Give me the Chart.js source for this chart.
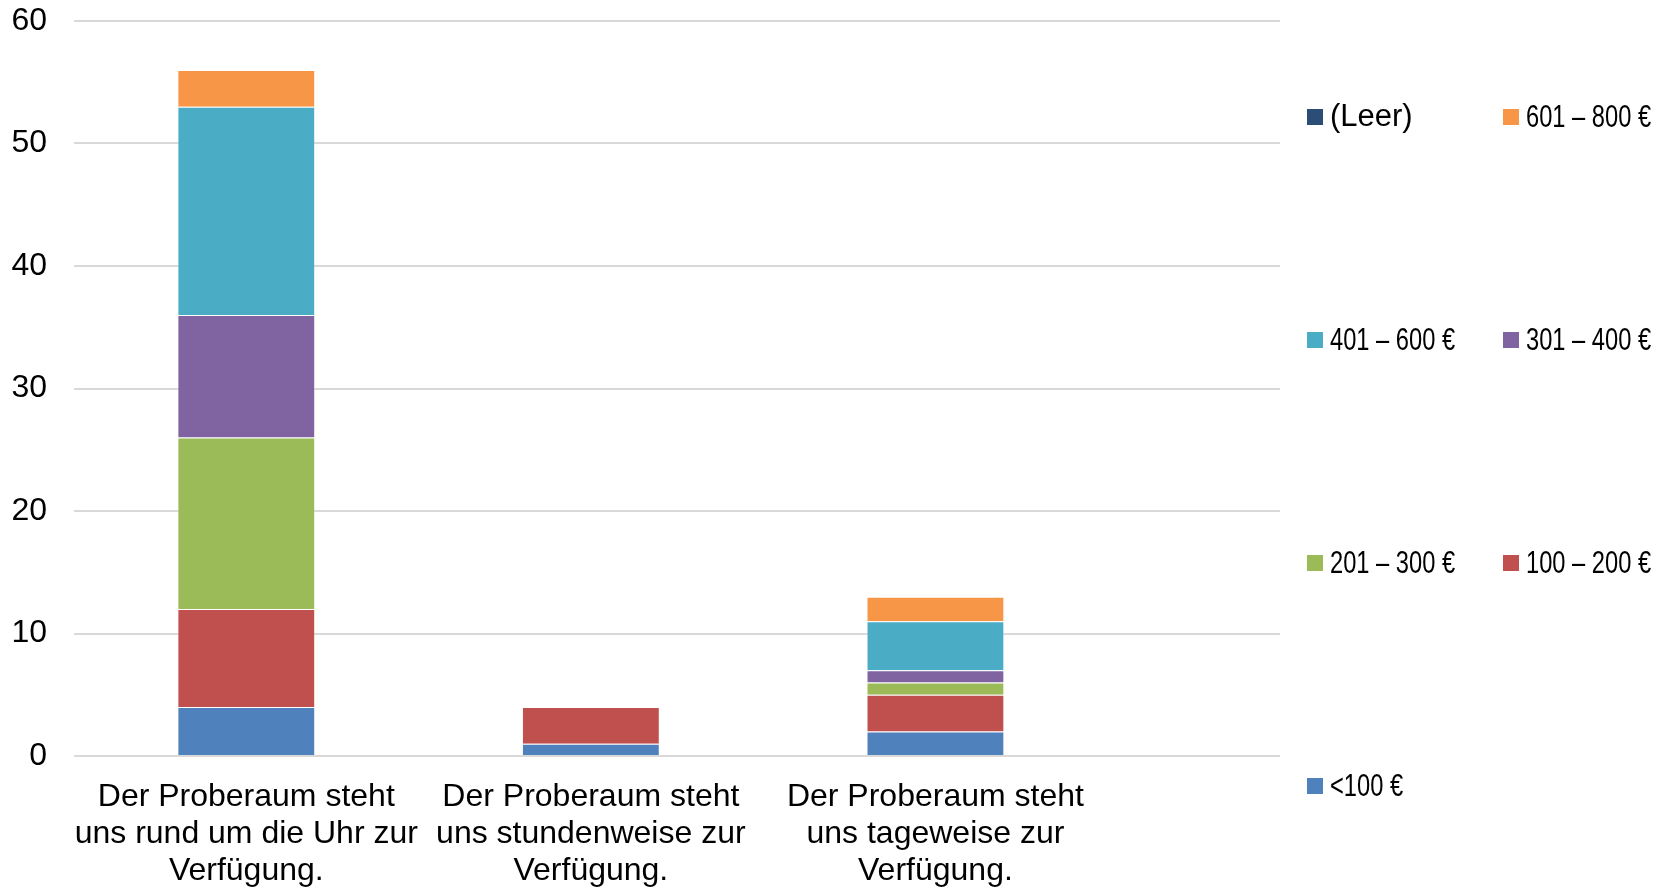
<!DOCTYPE html>
<html>
<head>
<meta charset="utf-8">
<script src="https://cdn.jsdelivr.net/npm/chart.js@4/dist/chart.umd.min.js"></script>
<style>
    body { margin: 0; background: #fff; }
    #wrap { position: relative; width: 1669px; height: 887px; }
    #legend {
        position: absolute; left: 1307px; top: 98px;
        display: grid; grid-template-columns: 196px 196px; grid-auto-rows: 223px;
    }
    .item { display: flex; align-items: flex-start; height: 36px; white-space: nowrap; }
    .item .box { width: 16px; height: 16px; margin-top: 11px; margin-right: 7px; flex: none; }
    .item span { display: inline-block; font-family: "Liberation Sans", Arial, sans-serif; font-size: 32px; line-height: 36px; color: #000; transform: scaleX(0.74); transform-origin: left center; }
    .item span.arial { font-size: 31px; transform: none; }
</style>
</head>
<body>
<div id="wrap">
    <canvas id="chart" width="1669" height="887"></canvas>
    <div id="legend"></div>
</div>
<script>
// Kategorien (x-Achse)
const categories = [
    ['Der Proberaum steht', 'uns rund um die Uhr zur', 'Verfügung.'],
    ['Der Proberaum steht', 'uns stundenweise zur', 'Verfügung.'],
    ['Der Proberaum steht', 'uns tageweise zur', 'Verfügung.']
];

const seriesNames = ['<100 €', '100 – 200 €', '201 – 300 €', '301 – 400 €', '401 – 600 €', '601 – 800 €', '(Leer)'];
const seriesColors = ['#4F81BD', '#C0504D', '#9BBB59', '#8064A2', '#4BACC6', '#F79646', '#2C4D75'];

const under100 = [4, 1, 2];
const from100to200 = [8, 3, 3];
const from201to300 = [14, 0, 1];
const from301to400 = [10, 0, 1];
const from401to600 = [17, 0, 4];
const from601to800 = [3, 0, 2];
const leer = [0, 0, 0];

const yTicks = [0, 10, 20, 30, 40, 50, 60];

const seriesValues = [under100, from100to200, from201to300, from301to400, from401to600, from601to800, leer];

const datasets = seriesValues.map((values, i) => ({
    label: seriesNames[i],
    data: values.map((v, j) => ({ x: j, y: v })),
    backgroundColor: seriesColors[i],
    borderColor: 'rgba(255,255,255,0.3)',
    borderWidth: 1,
    categoryPercentage: 1,
    barPercentage: 0.4
}));

const ctx = document.getElementById('chart').getContext('2d');
new Chart(ctx, {
    type: 'bar',
    data: { datasets: datasets },
    options: {
        responsive: false,
        animation: false,
        layout: { padding: { top: 0, right: 389, left: 0, bottom: 0 } },
        plugins: {
            legend: { display: false },
            tooltip: { enabled: false }
        },
        scales: {
            x: {
                type: 'linear',
                stacked: true,
                offset: false,
                min: -0.5,
                max: 3,
                grid: { display: false },
                border: { display: false },
                afterBuildTicks: scale => {
                    scale.ticks = categories.map((c, i) => ({ value: i }));
                },
                afterFit: scale => {
                    scale.height = 131;
                    scale.paddingLeft = 0;
                    scale.paddingRight = 0;
                },
                ticks: {
                    autoSkip: false,
                    maxRotation: 0,
                    padding: 15,
                    color: '#000',
                    font: { family: '"Liberation Sans", Arial, sans-serif', size: 32, lineHeight: 1.15 },
                    callback: value => categories[value] || ''
                }
            },
            y: {
                stacked: true,
                min: 0,
                max: 60,
                afterBuildTicks: scale => {
                    scale.ticks = yTicks.map(v => ({ value: v }));
                },
                afterFit: scale => {
                    scale.width = 74;
                    scale.paddingTop = 21;
                    scale.paddingBottom = 19;
                },
                grid: { color: '#d9d9d9', lineWidth: 2, drawTicks: false },
                border: { display: false },
                ticks: {
                    padding: 27,
                    color: '#000',
                    font: { family: '"Liberation Sans", Arial, sans-serif', size: 32 }
                }
            }
        }
    }
});

// Legende: umgekehrte Reihenfolge, zwei Spalten
const legend = document.getElementById('legend');
for (let i = seriesNames.length - 1; i >= 0; i--) {
    const item = document.createElement('div');
    item.className = 'item';
    item.innerHTML = `<div class="box" style="background:${seriesColors[i]}"></div>` +
        `<span class="${seriesNames[i] === '(Leer)' ? 'arial' : ''}">${seriesNames[i]}</span>`;
    legend.appendChild(item);
}
</script>
</body>
</html>
